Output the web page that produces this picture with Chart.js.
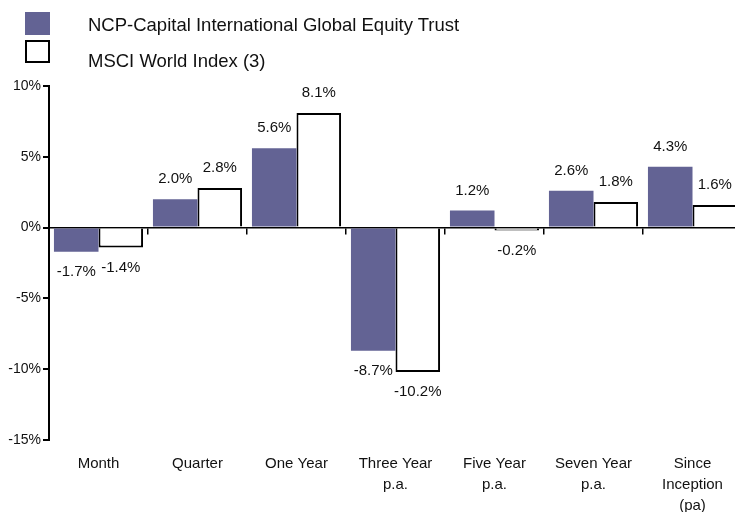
<!DOCTYPE html>
<html>
<head>
<meta charset="utf-8">
<script src="https://cdn.jsdelivr.net/npm/chart.js@4.4.1/dist/chart.umd.min.js"></script>
<style>
  html, body { margin: 0; padding: 0; background: #fff; }
  #wrap { position: relative; width: 735px; height: 512px; overflow: hidden; }
  #legend { position: absolute; left: 0; top: 0; width: 735px; font-family: "Liberation Sans", Arial, sans-serif; font-size: 18.5px; color: #111; }
  .sw { position: absolute; left: 25px; width: 25px; height: 23px; box-sizing: border-box; }
  .txt { position: absolute; left: 88px; line-height: 22px; white-space: nowrap; }
</style>
</head>
<body>
<div id="wrap">
  <!-- canvas a little wider than the window: the last bar is cut off in the original -->
  <canvas id="barChart" width="742" height="512"></canvas>
  <div id="legend"></div>
</div>
<script>
// data
const categories = ['Month', 'Quarter', 'One Year', ['Three Year', 'p.a.'], ['Five Year', 'p.a.'], ['Seven Year', 'p.a.'], ['Since', 'Inception', '(pa)']];
const fundName = 'NCP-Capital International Global Equity Trust';
const fundValues = [-1.7, 2.0, 5.6, -8.7, 1.2, 2.6, 4.3];
const indexName = 'MSCI World Index (3)';
const indexValues = [-1.4, 2.8, 8.1, -10.2, -0.2, 1.8, 1.6];
const yTicks = [-15, -10, -5, 0, 5, 10];

const purple = 'rgb(99, 99, 148)';
const font = '"Liberation Sans", Arial, sans-serif';

// legend in html, stacked like the original
const legend = document.getElementById('legend');
[[fundName, purple, 'none', 12, 14], [indexName, '#fff', '2px solid #000', 40, 50]].forEach(([name, fill, border, swTop, txTop]) => {
    const sw = document.createElement('div');
    sw.className = 'sw';
    sw.style.top = swTop + 'px';
    sw.style.background = fill;
    sw.style.border = border;
    legend.appendChild(sw);
    const t = document.createElement('div');
    t.className = 'txt';
    t.style.top = txTop + 'px';
    t.textContent = name;
    legend.appendChild(t);
});

// value labels above / below the bars
const valueLabels = {
    id: 'valueLabels',
    afterDatasetsDraw(chart) {
        const ctx = chart.ctx;
        ctx.save();
        ctx.font = '15px ' + font;
        ctx.fillStyle = '#111';
        ctx.textAlign = 'center';
        ctx.textBaseline = 'middle';
        chart.data.datasets.forEach((ds, di) => {
            chart.getDatasetMeta(di).data.forEach((bar, i) => {
                const v = ds.data[i];
                const y = v >= 0 ? bar.y - 20 : bar.y + 20;
                ctx.fillText(v.toFixed(1) + '%', bar.x, y);
            });
        });
        ctx.restore();
    }
};

const ctx = document.getElementById('barChart').getContext('2d');
new Chart(ctx, {
    type: 'bar',
    data: {
        labels: categories,
        datasets: [
            {
                label: fundName,
                data: fundValues,
                backgroundColor: purple,
                borderWidth: 0
            },
            {
                label: indexName,
                data: indexValues,
                backgroundColor: '#fff',
                borderColor: '#000',
                borderWidth: 2
            }
        ]
    },
    options: {
        responsive: false,
        animation: false,
        layout: { padding: { top: 86, left: 0, right: 0, bottom: 0 } },
        datasets: { bar: { categoryPercentage: 0.9, barPercentage: 1.0 } },
        plugins: {
            legend: { display: false },
            tooltip: { enabled: false }
        },
        scales: {
            x: {
                offset: true,
                grid: { display: false, offset: true },
                border: { display: false },
                ticks: {
                    color: '#111',
                    font: { family: font, size: 15, lineHeight: 1.4 },
                    padding: 5,
                    maxRotation: 0,
                    autoSkip: false
                },
                afterFit(scale) { scale.height = 72; }
            },
            // zero line with the small category ticks
            x0: {
                type: 'category',
                position: { y: 0 },
                offset: true,
                grid: { drawOnChartArea: false, offset: true, tickLength: 6, color: '#000', lineWidth: 1.5 },
                border: { color: '#000', width: 1.5 },
                ticks: { display: false }
            },
            y: {
                min: -15,
                max: 10,
                afterBuildTicks(scale) { scale.ticks = yTicks.map(v => ({ value: v })); },
                grid: { drawOnChartArea: false, tickLength: 6, color: '#000', lineWidth: 2 },
                border: { color: '#000', width: 2 },
                ticks: {
                    color: '#111',
                    font: { family: font, size: 14 },
                    padding: 2,
                    callback: v => v + '%'
                },
                afterFit(scale) { scale.width = 49; }
            }
        }
    },
    plugins: [valueLabels]
});
</script>
</body>
</html>
